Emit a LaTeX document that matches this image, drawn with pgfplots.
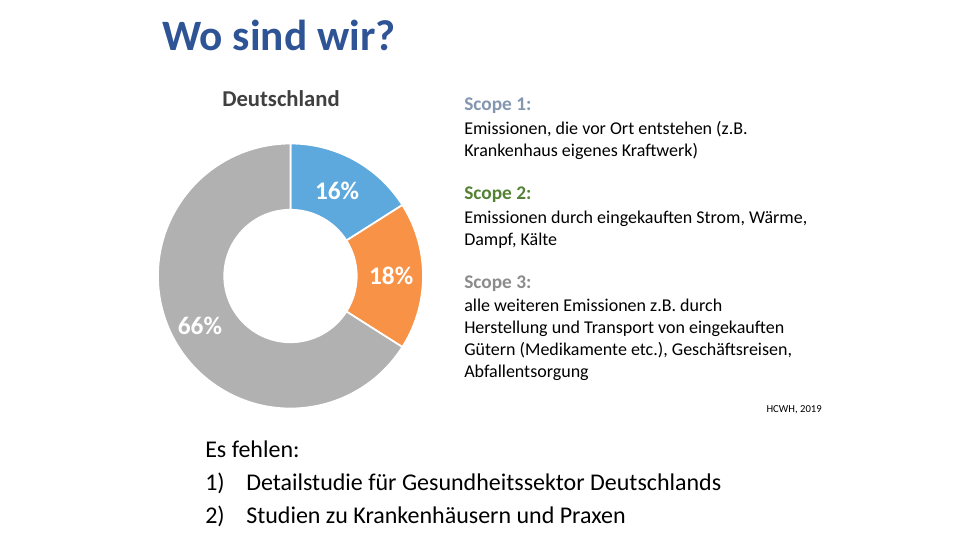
\documentclass[border=0pt]{standalone}
\usepackage{fontspec}
\setmainfont{Carlito}
\usepackage{pgfplots}
\pgfplotsset{compat=1.18}
\usepackage{pgfplotstable}
\usetikzlibrary{calc}
\definecolor{cBlue}{RGB}{93,168,221}
\definecolor{cOrange}{RGB}{247,146,70}
\definecolor{cGray}{RGB}{177,177,177}
\definecolor{cTitle}{RGB}{47,84,150}
\definecolor{cS1}{RGB}{132,151,176}
\definecolor{cS2}{RGB}{84,130,53}
\definecolor{cS3}{RGB}{140,140,140}
\definecolor{cDark}{RGB}{64,64,64}

\pgfplotstableread{
share
16
18
66
}\piedata

\newcommand\donutpiece[3]{%
\fill[#1, draw=white, line width=1.3pt] let \p1=(axis cs:0,0), \p2=(axis cs:1,0), \n1={\x2-\x1} in
 (axis cs:{cos(#2)},{sin(#2)}) arc[start angle=#2, end angle=#3, radius=\n1]
 -- (axis cs:{0.5*cos(#3)},{0.5*sin(#3)}) arc[start angle=#3, end angle=#2, radius=0.5*\n1] -- cycle;}

\begin{document}
\pgfplotstablegetelem{0}{share}\of\piedata \edef\sA{\pgfplotsretval}%
\pgfplotstablegetelem{1}{share}\of\piedata \edef\sB{\pgfplotsretval}%
\pgfplotstablegetelem{2}{share}\of\piedata \edef\sC{\pgfplotsretval}%
\pgfmathsetmacro\aA{90}%
\pgfmathsetmacro\bA{90-3.6*\sA}%
\pgfmathsetmacro\bB{\bA-3.6*\sB}%
\pgfmathsetmacro\bC{\bB-3.6*\sC}%
\pgfmathsetmacro\mA{(\aA+\bA)/2}%
\pgfmathsetmacro\mB{(\bA+\bB)/2}%
\pgfmathsetmacro\mC{(\bB+\bC)/2}%
\begin{tikzpicture}[x=0.75pt,y=-0.75pt]
\fill[white] (0,0) rectangle (960,540);
\coordinate (C) at (290.5,276);
\begin{axis}[at={(C)}, anchor=center, hide axis, scale only axis,
  width=198.75pt, height=198.75pt, xmin=-1, xmax=1, ymin=-1, ymax=1, clip=false]
\addplot[draw=none, forget plot] coordinates {(0,0)};
\donutpiece{cBlue}{\aA}{\bA}
\donutpiece{cOrange}{\bA}{\bB}
\donutpiece{cGray}{\bB}{\bC}
\node[white, font=\bfseries\fontsize{19}{22}\selectfont] at (axis cs:{0.73*cos(\mA)},{0.73*sin(\mA)}) {\sA\%};
\node[white, font=\bfseries\fontsize{19}{22}\selectfont] at (axis cs:{0.76*cos(\mB)},{0.76*sin(\mB)}) {\sB\%};
\node[white, font=\bfseries\fontsize{19}{22}\selectfont] at (axis cs:{0.78*cos(\mC)},{0.78*sin(\mC)}) {\sC\%};
\end{axis}
% title
\node[anchor=base west, inner sep=0, text=cTitle, font=\bfseries\fontsize{32.5}{36}\selectfont] at (162,50) {Wo sind wir?};
\node[anchor=base, inner sep=0, text=cDark, font=\bfseries\fontsize{17}{20}\selectfont] at (281,106) {Deutschland};
% right text
\begin{scope}[every node/.style={anchor=base west, inner sep=0}]
\node[text=cS1, font=\bfseries\fontsize{14.5}{17}\selectfont] at (464,110) {Scope 1:};
\node[font=\fontsize{13.5}{16}\selectfont] at (464,134) {Emissionen, die vor Ort entstehen (z.B.};
\node[font=\fontsize{13.5}{16}\selectfont] at (464,156) {Krankenhaus eigenes Kraftwerk)};
\node[text=cS2, font=\bfseries\fontsize{14.5}{17}\selectfont] at (464,199) {Scope 2:};
\node[font=\fontsize{13.5}{16}\selectfont] at (464,223) {Emissionen durch eingekauften Strom, Wärme,};
\node[font=\fontsize{13.5}{16}\selectfont] at (464,245) {Dampf, Kälte};
\node[text=cS3, font=\bfseries\fontsize{14.5}{17}\selectfont] at (464,288) {Scope 3:};
\node[font=\fontsize{13.5}{16}\selectfont] at (464,311) {alle weiteren Emissionen z.B. durch};
\node[font=\fontsize{13.5}{16}\selectfont] at (464,333) {Herstellung und Transport von eingekauften};
\node[font=\fontsize{13.5}{16}\selectfont] at (464,355) {Gütern (Medikamente etc.), Geschäftsreisen,};
\node[font=\fontsize{13.5}{16}\selectfont] at (464,377) {Abfallentsorgung};
\node[anchor=base east, font=\fontsize{8}{10}\selectfont] at (822,412) {HCWH, 2019};
% bottom
\node[font=\fontsize{18}{22}\selectfont] at (205,457) {Es fehlen:};
\node[font=\fontsize{18}{22}\selectfont] at (205,490) {1)};
\node[font=\fontsize{18}{22}\selectfont] at (246,490) {Detailstudie für Gesundheitssektor Deutschlands};
\node[font=\fontsize{18}{22}\selectfont] at (205,523) {2)};
\node[font=\fontsize{18}{22}\selectfont] at (246,523) {Studien zu Krankenhäusern und Praxen};
\end{scope}
\end{tikzpicture}
\end{document}
